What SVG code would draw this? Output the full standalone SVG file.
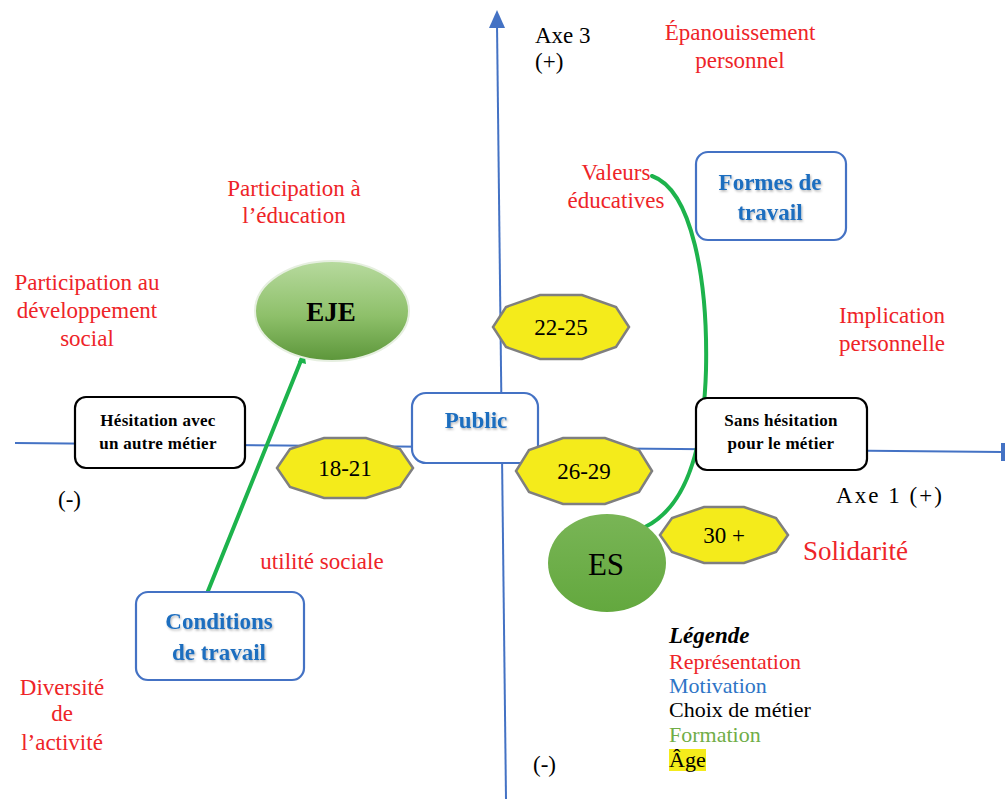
<svg xmlns="http://www.w3.org/2000/svg" width="1006" height="799" viewBox="0 0 1006 799">
<style>
.t{font-family:"Liberation Serif","Times New Roman",serif;font-size:23px;}
.red{fill:#EE2428;}
.blk{fill:#000;}
.c{text-anchor:middle;}
.lg{font-size:22px;}
.box{fill:#fff;stroke:#000;stroke-width:2.2;}
.bbox{fill:#fff;stroke:#4472C4;stroke-width:2.2;}
.nt{font-family:"Liberation Serif","Times New Roman",serif;font-size:17px;font-weight:bold;fill:#000;text-anchor:middle;letter-spacing:0.3px;}
.mt{font-family:"Liberation Serif","Times New Roman",serif;font-size:23px;font-weight:bold;fill:#1F6EBF;text-anchor:middle;}
.oct{fill:#F4EB1B;stroke:#7F7F7F;stroke-width:2.5;}
.ot{font-family:"Liberation Serif","Times New Roman",serif;font-size:23px;fill:#000;text-anchor:middle;}
.axis{stroke:#4472C4;stroke-width:2;fill:none;}
.gl{stroke:#1DB34C;stroke-width:4;fill:none;stroke-linecap:round;}
</style>
<defs>
<linearGradient id="gEJE" x1="0" y1="0" x2="0" y2="1">
<stop offset="0" stop-color="#B7DA9E"/>
<stop offset="0.55" stop-color="#8EC06A"/>
<stop offset="1" stop-color="#5C963A"/>
</linearGradient>
<linearGradient id="gES" x1="0" y1="0" x2="0" y2="1">
<stop offset="0" stop-color="#79B556"/>
<stop offset="1" stop-color="#63A83E"/>
</linearGradient>
<filter id="sh" x="-20%" y="-20%" width="140%" height="140%">
<feDropShadow dx="1" dy="1.5" stdDeviation="1" flood-color="#000" flood-opacity="0.3"/>
</filter>
</defs>

<g id="axes">
<line class="axis" x1="506" y1="799" x2="497" y2="24"/>
<polygon points="497,10 489,28 505,28" fill="#4472C4"/>
<line class="axis" x1="15" y1="443" x2="1002" y2="452"/>
<line x1="1003" y1="443" x2="1003" y2="461" stroke="#4472C4" stroke-width="4"/>
</g>

<g id="connectors">
<path class="gl" d="M208,591 L302,358"/>
<path d="M298,362 L304,350 L306,364 Z" fill="#1DB34C"/>
<path class="gl" d="M645,527 C690,505 704,440 706,370 C708,280 692,190 652,176"/>
</g>

<g id="node-hesitation">
<rect class="box" x="75" y="397" width="170" height="71" rx="11"/>
<text class="nt" x="158" y="426">Hésitation avec</text>
<text class="nt" x="158" y="449">un autre métier</text>
</g>

<g id="node-sans">
<rect class="box" x="696" y="398" width="171" height="72" rx="11"/>
<text class="nt" x="781" y="426">Sans hésitation</text>
<text class="nt" x="781" y="449">pour le métier</text>
</g>

<g id="node-public">
<rect class="bbox" x="412" y="393" width="126" height="70" rx="14"/>
<text class="mt" x="476" y="428" filter="url(#sh)">Public</text>
</g>

<g id="node-conditions">
<rect class="bbox" x="136" y="592" width="168" height="88" rx="12"/>
<text class="mt" x="219" y="629" filter="url(#sh)">Conditions</text>
<text class="mt" x="219" y="660" filter="url(#sh)">de travail</text>
</g>

<g id="node-formes">
<rect class="bbox" x="696" y="152" width="150" height="88" rx="12"/>
<text class="mt" x="770" y="190" filter="url(#sh)">Formes de</text>
<text class="mt" x="770" y="220" filter="url(#sh)">travail</text>
</g>

<g id="node-eje">
<ellipse cx="332" cy="311" rx="77" ry="50" fill="url(#gEJE)" stroke="#E6EFE0" stroke-width="2"/>
<text x="331" y="321" font-family="Liberation Serif,Times New Roman,serif" font-size="27" font-weight="bold" text-anchor="middle" fill="#000">EJE</text>
</g>

<g id="node-es">
<ellipse cx="607" cy="563" rx="59" ry="49" fill="url(#gES)"/>
<text x="606" y="575" font-family="Liberation Serif,Times New Roman,serif" font-size="31" text-anchor="middle" fill="#000">ES</text>
</g>

<g id="age-22-25">
<polygon class="oct" points="629,327 616,307 582,295 540,295 506,307 493,327 506,347 540,359 582,359 616,347"/>
<text class="ot" x="561" y="335">22-25</text>
</g>
<g id="age-18-21">
<polygon class="oct" points="413,468 400,449 366,438 324,438 290,449 277,468 290,487 324,498 366,498 400,487"/>
<text class="ot" x="345" y="476">18-21</text>
</g>
<g id="age-26-29">
<polygon class="oct" points="652,471 639,450 605,438 563,438 529,450 516,471 529,492 563,504 605,504 639,492"/>
<text class="ot" x="584" y="479">26-29</text>
</g>
<g id="age-30">
<polygon class="oct" points="788,535 776,518 744,507 704,507 672,518 660,535 672,552 704,563 744,563 776,552"/>
<text class="ot" x="724" y="543">30 +</text>
</g>

<g id="labels">
<text class="t blk" x="535" y="43">Axe 3</text>
<text class="t blk" x="535" y="69">(+)</text>
<text class="t red c" x="740" y="40">Épanouissement</text>
<text class="t red c" x="740" y="68">personnel</text>
<text class="t red c" x="294" y="196">Participation à</text>
<text class="t red c" x="294" y="223">l’éducation</text>
<text class="t red c" x="616" y="180">Valeurs</text>
<text class="t red c" x="616" y="208">éducatives</text>
<text class="t red c" x="87" y="290">Participation au</text>
<text class="t red c" x="87" y="318">développement</text>
<text class="t red c" x="87" y="346">social</text>
<text class="t red c" x="892" y="323">Implication</text>
<text class="t red c" x="892" y="351">personnelle</text>
<text class="t blk" x="58" y="507">(-)</text>
<text class="t blk" x="836" y="503" textLength="106">Axe 1 (+)</text>
<text class="t red" x="803" y="560" style="font-size:27px">Solidarité</text>
<text class="t red c" x="322" y="569">utilité sociale</text>
<text class="t red c" x="62" y="695">Diversité</text>
<text class="t red c" x="62" y="721">de</text>
<text class="t red c" x="62" y="750">l’activité</text>
<text class="t blk" x="533" y="772">(-)</text>
</g>

<g id="legend">
<text class="t blk" x="669" y="643" font-weight="bold" font-style="italic">Légende</text>
<text class="t red lg" x="669" y="669">Représentation</text>
<text class="t lg" x="669" y="693" fill="#2E75C6">Motivation</text>
<text class="t blk lg" x="669" y="717">Choix de métier</text>
<text class="t lg" x="669" y="742" fill="#70AD47">Formation</text>
<rect x="669" y="749" width="37" height="22" fill="#F4EB1B"/>
<text class="t blk lg" x="669" y="767">Âge</text>
</g>
</svg>
